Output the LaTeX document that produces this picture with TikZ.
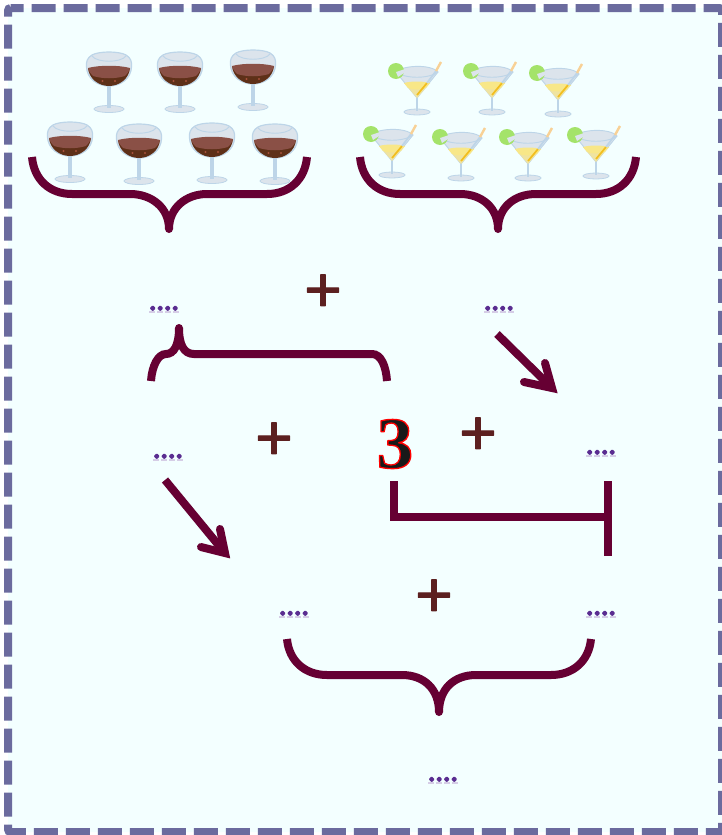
\documentclass[tikz,border=0pt]{standalone}
\usepackage{fontspec}
\usepackage{tikz}
\usetikzlibrary{calc}

\newfontfamily\plusfont{Liberation Sans}
\newfontfamily\threefont{Liberation Serif}

\definecolor{framecol}{HTML}{6B6B9E}
\definecolor{paper}{HTML}{F3FFFF}
\definecolor{bracecol}{HTML}{660033}
\definecolor{pluscol}{HTML}{5C2020}
\definecolor{dotcol}{HTML}{5A2D91}
\definecolor{dotshade}{HTML}{D5CDE6}
\definecolor{glasscol}{HTML}{DCE4EC}
\definecolor{glassline}{HTML}{BDD5E8}
\definecolor{winetop}{HTML}{8A5046}
\definecolor{winelow}{HTML}{5E3018}
\definecolor{winespot}{HTML}{A5503A}
\definecolor{limecol}{HTML}{A4E36A}
\definecolor{drinktop}{HTML}{F8E788}
\definecolor{drinklow}{HTML}{EFE3A0}
\definecolor{strawlow}{HTML}{F2BE1E}
\definecolor{strawtop}{HTML}{F8D196}

% text with a coloured outline: width, stroke colour as rgb, text
\newcommand{\outlined}[3]{\special{pdf:code 2 Tr 1 j #1 w #2 RG}#3\special{pdf:code 0 Tr 0 j}}

\tikzset{
  bracket/.style={draw=bracecol, line width=6pt},
  plain/.style={draw=bracecol, line width=6pt},
  plusmark/.style={text=pluscol, font=\fontsize{48}{48}\plusfont},
  dotsmark/.style={text=dotcol, font=\fontsize{18}{18}\selectfont\bfseries, anchor=base, inner sep=0pt},
  shademark/.style={draw=dotshade, line width=2pt, dash pattern=on 4.5pt off 1.5pt},
  wineglass/.pic={
    % base and stem
    \fill[glasscol, draw=glassline, line width=0.6pt] (0,57) ellipse (15 and 3.5);
    \fill[glassline] (-1.6,32) rectangle (1.6,56);
    % bowl
    \fill[glasscol, draw=glassline, line width=0.9pt] (-17,3) .. controls (-22,6) and (-23,10) .. (-22.5,15)
      .. controls (-22,27) and (-11,34) .. (0,34) .. controls (11,34) and (22,27) .. (22.5,15)
      .. controls (23,10) and (22,6) .. (17,3) .. controls (10,-1) and (-10,-1) .. cycle;
    \draw[glassline, line width=0.7pt] (-17,4) .. controls (-12,11) and (12,11) .. (17,4);
    % wine
    \fill[winelow] (-21,16) .. controls (-20,27) and (-10,34) .. (0,34) .. controls (10,34) and (20,27) .. (21,16) -- cycle;
    \fill[winetop] (-21,16) .. controls (-10,13) and (10,13) .. (21,16) .. controls (20,20) and (18,22) .. (16,24)
      .. controls (6,27) and (-6,27) .. (-16,24) .. controls (-18,22) and (-20,20) .. cycle;
    \fill[winespot] (-6.5,29) circle (1.1);
    \fill[winespot] (6,29) circle (1.1);
  },
  martiniglass/.pic={
    % base and stem
    \fill[glasscol, draw=glassline, line width=0.6pt] (0,47) ellipse (13 and 3);
    \fill[glassline] (-1,32) rectangle (1,46);
    % bowl
    \fill[glasscol, draw=glassline, line width=0.7pt] (-21,7) .. controls (-14,0) and (14,-1) .. (21,7) -- (0,33) -- cycle;
    \draw[glassline, line width=0.7pt] (-21,7) .. controls (-12,14) and (12,14) .. (21,7);
    % drink
    \fill[drinklow] (-13,18) -- (13,18) -- (0,33) -- cycle;
    \fill[drinktop] (-13,18) .. controls (-6,16) and (6,16) .. (13,18) -- (9,23) .. controls (3,25) and (-3,25) .. (-9,23) -- cycle;
    % lime
    \fill[limecol] (-21,6) circle (8);
    \fill[glasscol] (-21,7) -- (-12,4) -- (-13,8) -- (-19,12) -- cycle;
    % straw
    \draw[strawlow, line width=1.3pt] (0,30) -- (10,18);
    \draw[glassline, line width=1.3pt] (10,18) -- (19,6);
    \draw[strawtop, line width=1.8pt] (19,6) -- (24,-3);
  }
}

\begin{document}
\begin{tikzpicture}[x=0.75pt, y=-0.75pt]

% frame
\useasboundingbox (0,0) rectangle (721,835);
\filldraw[fill=paper, draw=framecol, line width=6pt, rounded corners=2pt, dash pattern=on 18pt off 6pt, dash phase=8.25pt]
  (8,8) -- (722,8) -- (722,832) -- (8,832) -- cycle;

% red wine
\pic at (109,52) {wineglass};
\pic at (180,52) {wineglass};
\pic at (253,50) {wineglass};
\pic at (70,122) {wineglass};
\pic at (139,124) {wineglass};
\pic at (212,123) {wineglass};
\pic at (275,124) {wineglass};

% cocktails
\pic at (417,65) {martiniglass};
\pic at (492,65) {martiniglass};
\pic at (558,67) {martiniglass};
\pic at (392,128) {martiniglass};
\pic at (461,131) {martiniglass};
\pic at (528,131) {martiniglass};
\pic at (596,129) {martiniglass};

% free ends of the braces
\coordinate (A1) at (32,157);
\coordinate (A2) at (169,229);
\coordinate (A3) at (307,157);
\coordinate (B1) at (360,157);
\coordinate (B2) at (498,229);
\coordinate (B3) at (636,157);
\coordinate (C1) at (287,639);
\coordinate (C2) at (439,712);
\coordinate (C3) at (591,639);
\coordinate (D1) at (151,381);
\coordinate (D2) at (179,328);
\coordinate (D3) at (387,381);

% braces
\draw[bracket] (A1) .. controls (34,180) and (50,194) .. (72,194) -- (130,194)
  .. controls (152,194) and (169,208) .. (A2)
  .. controls (169,208) and (186,194) .. (207,194) -- (267,194)
  .. controls (289,194) and (305,180) .. (A3);
\draw[bracket] (B1) .. controls (362,180) and (378,194) .. (400,194) -- (460,194)
  .. controls (482,194) and (498,208) .. (B2)
  .. controls (498,208) and (514,194) .. (536,194) -- (596,194)
  .. controls (618,194) and (634,180) .. (B3);
\draw[bracket] (C1) .. controls (289,661) and (305,675) .. (327,675) -- (402,675)
  .. controls (424,675) and (439,689) .. (C2)
  .. controls (439,689) and (454,675) .. (476,675) -- (551,675)
  .. controls (573,675) and (589,661) .. (C3);
\draw[bracket] (D1) .. controls (152,366) and (158,354) .. (166,354)
  .. controls (174,354) and (179,345) .. (D2)
  .. controls (179,345) and (184,354) .. (194,354) -- (372,354)
  .. controls (381,354) and (386,366) .. (D3);

% brace tips
\fill[bracecol] (A2) circle (4);
\fill[bracecol] (B2) circle (4);
\fill[bracecol] (C2) circle (4);
\fill[bracecol] (D2) circle (4);

% arrows
\coordinate (E1) at (497,334);
\coordinate (E2) at (552,388);
\coordinate (E3) at (545,363);
\coordinate (E4) at (524,382);
\coordinate (F1) at (165,480);
\coordinate (F2) at (225,553);
\coordinate (F3) at (220,529);
\coordinate (F4) at (201,547);
\draw[plain] (E1) -- (E2);
\draw[plain, line cap=round, miter limit=10] (E3) -- (E2) -- (E4);
\draw[plain] (F1) -- (F2);
\draw[plain, line cap=round, miter limit=10] (F3) -- (F2) -- (F4);

% bars
\coordinate (G1) at (394,481);
\coordinate (G2) at (394,517);
\coordinate (G3) at (608,517);
\coordinate (H1) at (608,481);
\coordinate (H2) at (608,556);
\draw[plain] (G1) -- (G2) -- (G3);
\draw[plain] (H1) -- (H2);

% plus signs
\node[plusmark] (P1) at (323,293) {\outlined{0.7}{0.36 0.125 0.125}{+}};
\node[plusmark] (P2) at (274,441) {\outlined{0.7}{0.36 0.125 0.125}{+}};
\node[plusmark] (P3) at (478,436) {\outlined{0.7}{0.36 0.125 0.125}{+}};
\node[plusmark] (P4) at (434,598) {\outlined{0.7}{0.36 0.125 0.125}{+}};

% the three
\node[font=\fontsize{55}{55}\threefont\bfseries, text=black!90] (N3) at (395,444) {\outlined{1}{1 0 0}{3}};

% shade under the dots
\draw[shademark] (149,312) -- (180,312);
\draw[shademark] (484,312) -- (515,312);
\draw[shademark] (153,460) -- (184,460);
\draw[shademark] (586,456) -- (617,456);
\draw[shademark] (279,617) -- (310,617);
\draw[shademark] (586,617) -- (617,617);
\draw[shademark] (428,783) -- (459,783);

% dots
\node[dotsmark] (T1) at (164,310) {\outlined{1.4}{0.353 0.176 0.569}{....}};
\node[dotsmark] (T2) at (499,310) {\outlined{1.4}{0.353 0.176 0.569}{....}};
\node[dotsmark] (T3) at (168,458) {\outlined{1.4}{0.353 0.176 0.569}{....}};
\node[dotsmark] (T4) at (601,454) {\outlined{1.4}{0.353 0.176 0.569}{....}};
\node[dotsmark] (T5) at (294,615) {\outlined{1.4}{0.353 0.176 0.569}{....}};
\node[dotsmark] (T6) at (601,615) {\outlined{1.4}{0.353 0.176 0.569}{....}};
\node[dotsmark] (T7) at (443,781) {\outlined{1.4}{0.353 0.176 0.569}{....}};

\end{tikzpicture}
\end{document}
